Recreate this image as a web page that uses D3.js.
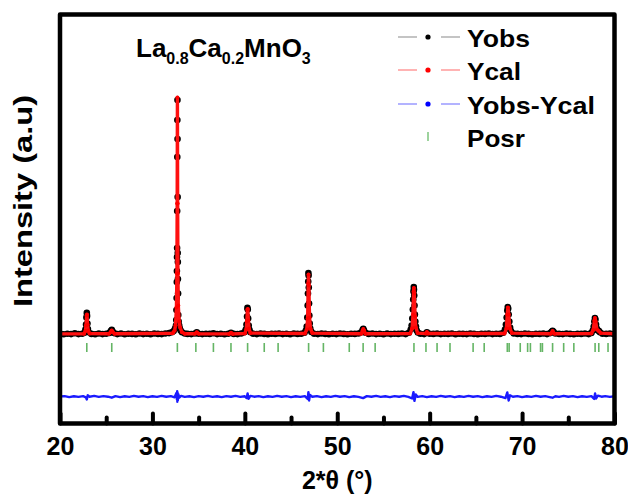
<!DOCTYPE html>
<html><head><meta charset="utf-8">
<script src="https://cdn.jsdelivr.net/npm/d3@7"></script>
<style>
body{margin:0;background:#fff}
svg{display:block}
text{font-family:"Liberation Sans",Arial,sans-serif;font-weight:bold;fill:#000}
</style>
</head><body>
<svg id="chart" width="628" height="494"></svg>
<script>
// ---------- data ----------
const xTicksMajor = [20, 30, 40, 50, 60, 70, 80];
const xTicksMinor = [25, 35, 45, 55, 65, 75];
const seriesNames = ["Yobs", "Ycal", "Yobs-Ycal", "Posr"];

// observed pattern [2theta, intensity]
const yobs = [
[20.0,3500],[20.4,3460],[20.8,3490],[21.2,3470],[21.6,3510],[22.0,3470],[22.4,3490],[22.65,3540],
[22.75,3700],[22.82,3950],[22.86,4300],[22.9,4530],[22.93,4380],[22.97,4000],[23.02,3720],[23.1,3560],
[23.4,3480],[23.8,3460],[24.2,3500],[24.6,3470],[25.0,3490],[25.35,3530],[25.5,3620],[25.6,3680],[25.7,3600],[25.85,3520],
[26.2,3470],[26.6,3500],[27.0,3460],[27.4,3490],[27.8,3480],[28.2,3460],[28.6,3500],[29.0,3470],[29.4,3490],[29.8,3460],
[30.2,3500],[30.6,3480],[31.0,3470],[31.4,3500],[31.8,3520],[32.1,3560],[32.3,3620],[32.45,3750],
[32.55,3900],[32.58,4175],[32.6,4675],[32.62,5275],[32.64,6075],[32.65,6625],[32.66,7325],[32.67,7775],[32.68,9625],
[32.69,12325],[32.70,14175],[32.71,15175],[32.72,13225],[32.73,10325],[32.74,7525],[32.75,7075],[32.76,6225],
[32.78,5500],[32.8,4425],[32.84,4100],[32.9,3900],[32.97,3750],[33.05,3650],[33.2,3560],[33.5,3500],
[33.8,3480],[34.2,3470],[34.6,3500],[34.8,3560],[35.0,3490],[35.4,3470],[35.8,3490],[36.2,3480],[36.6,3510],[37.0,3470],
[37.4,3490],[37.8,3460],[38.2,3490],[38.5,3540],[38.8,3480],[39.2,3470],[39.6,3500],[39.95,3560],
[40.1,3700],[40.18,3950],[40.24,4350],[40.28,4780],[40.32,4700],[40.36,4250],[40.42,3900],[40.5,3680],[40.6,3560],
[40.9,3490],[41.3,3470],[41.7,3500],[42.1,3480],[42.5,3460],[42.9,3490],[43.3,3480],[43.7,3500],[44.1,3470],[44.5,3490],
[44.9,3460],[45.3,3500],[45.7,3480],[46.1,3490],[46.45,3540],
[46.6,3650],[46.7,3850],[46.76,4300],[46.8,4900],[46.83,5500],[46.86,6100],[46.88,6525],[46.9,6400],[46.92,5800],
[46.95,5000],[46.98,4400],[47.02,4000],[47.08,3750],[47.2,3580],
[47.5,3490],[47.9,3470],[48.3,3500],[48.7,3480],[49.1,3460],[49.5,3490],[49.9,3470],[50.3,3500],[50.7,3480],[51.1,3460],
[51.5,3490],[51.9,3480],[52.3,3500],[52.6,3560],[52.75,3680],[52.82,3740],[52.9,3650],[53.05,3540],
[53.4,3480],[53.8,3500],[54.2,3470],[54.6,3490],[55.0,3460],[55.4,3500],[55.8,3470],[56.2,3490],[56.6,3480],[57.0,3500],
[57.4,3470],[57.75,3540],
[57.95,3700],[58.05,3900],[58.12,4250],[58.18,4700],[58.22,5200],[58.25,5600],[58.28,5825],[58.3,5700],[58.33,5400],
[58.36,4900],[58.4,4450],[58.45,4100],[58.52,3850],[58.6,3650],[58.72,3550],
[59.0,3490],[59.4,3470],[59.7,3560],[60.0,3490],[60.4,3480],[60.8,3500],[61.2,3470],[61.6,3490],[62.0,3480],[62.4,3500],
[62.8,3460],[63.2,3490],[63.6,3480],[64.0,3470],[64.4,3500],[64.8,3480],[65.2,3460],[65.6,3490],[66.0,3480],[66.4,3500],
[66.8,3470],[67.2,3490],[67.6,3480],[67.95,3540],
[68.15,3700],[68.25,3950],[68.33,4300],[68.4,4650],[68.45,4825],[68.5,4750],[68.55,4450],[68.62,4100],[68.7,3800],[68.8,3620],
[69.1,3500],[69.5,3480],[69.9,3470],[70.3,3500],[70.7,3480],[71.1,3460],[71.5,3490],[71.9,3480],[72.3,3500],[72.7,3470],
[73.05,3520],[73.2,3580],[73.3,3630],[73.4,3580],[73.6,3500],
[74.0,3480],[74.4,3470],[74.8,3500],[75.2,3480],[75.6,3460],[76.0,3490],[76.4,3480],[76.8,3500],[77.2,3470],[77.5,3530],
[77.65,3650],[77.75,3850],[77.82,4100],[77.88,4275],[77.94,4200],[78.0,3950],[78.08,3750],[78.2,3650],[78.3,3640],[78.42,3560],
[78.7,3490],[79.1,3480],[79.5,3500],[79.9,3470]
];

// calculated profile [2theta, intensity]
const ycal = [
[20,3480],[22.6,3485],[22.75,3620],[22.82,3900],[22.88,4400],[22.92,4450],[22.98,3950],[23.05,3650],[23.2,3500],
[25.3,3490],[25.5,3580],[25.6,3650],[25.7,3580],[25.9,3490],
[32.2,3510],[32.4,3650],[32.5,3900],[32.6,4800],[32.65,6500],[32.68,10000],[32.705,15300],[32.73,10000],[32.76,6500],
[32.8,4900],[32.9,4100],[33.0,3800],[33.2,3560],[33.5,3490],
[34.6,3490],[34.8,3560],[35.0,3490],[38.3,3480],[38.5,3540],[38.7,3480],
[40.0,3500],[40.15,3700],[40.22,4100],[40.28,4700],[40.32,4720],[40.38,4150],[40.45,3750],[40.6,3520],
[46.5,3500],[46.7,3700],[46.8,4250],[46.86,6000],[46.89,6450],[46.93,5900],[47.0,4300],[47.1,3750],[47.3,3520],
[52.6,3490],[52.75,3650],[52.82,3720],[52.9,3650],[53.05,3490],
[57.9,3500],[58.1,3750],[58.2,4450],[58.26,5600],[58.29,5780],[58.33,5500],[58.42,4350],[58.5,3800],[58.7,3520],
[59.6,3500],[59.7,3570],[59.8,3500],
[68.1,3500],[68.3,3750],[68.4,4450],[68.47,4800],[68.55,4450],[68.68,3750],[68.9,3520],
[73.1,3490],[73.3,3620],[73.5,3490],
[77.5,3500],[77.7,3680],[77.83,4150],[77.89,4270],[77.96,4100],[78.1,3700],[78.3,3620],[78.5,3520],[80,3490]
];

// difference curve [2theta, Yobs-Ycal]
const diff = [
[20,0],[20.5,20],[21,-30],[21.5,10],[22,-20],[22.5,20],[22.8,-40],[22.9,-150],[23.0,60],[23.2,-10],[23.7,30],[24.2,-20],
[24.7,20],[25.2,-10],[25.6,-60],[26,20],[26.5,-30],[27,10],[27.5,-20],[28,30],[28.5,-10],[29,20],[29.5,-30],[30,10],
[30.5,-20],[31,30],[31.5,-10],[32,20],[32.4,-40],[32.6,180],[32.65,-150],[32.68,260],[32.7,-260],[32.72,200],[32.75,-200],
[32.8,120],[32.9,-60],[33.1,30],[33.5,-20],[34,10],[34.5,-30],[35,20],[35.5,-10],[36,30],[36.5,-20],[37,10],[37.5,-30],
[38,20],[38.5,-10],[39,30],[39.5,-20],[40,10],[40.2,-80],[40.3,150],[40.4,-120],[40.6,30],[41,-10],[41.5,20],[42,-30],
[42.5,10],[43,-20],[43.5,30],[44,-10],[44.5,20],[45,-30],[45.5,10],[46,-20],[46.5,20],[46.8,-120],[46.88,220],[46.95,-200],
[47.05,80],[47.3,-10],[47.8,20],[48.3,-30],[48.8,10],[49.3,-20],[49.8,30],[50.3,-10],[50.8,20],[51.3,-30],[51.8,10],
[52.3,-20],[52.8,-80],[53.2,20],[53.7,-10],[54.2,30],[54.7,-20],[55.2,10],[55.7,-30],[56.2,20],[56.7,-10],[57.2,30],
[57.7,-20],[58.1,-100],[58.25,220],[58.35,-220],[58.5,100],[58.7,-20],[59.2,20],[59.7,-30],[60.2,10],[60.7,-20],[61.2,30],
[61.7,-10],[62.2,20],[62.7,-30],[63.2,10],[63.7,-20],[64.2,30],[64.7,-10],[65.2,20],[65.7,-30],[66.2,10],[66.7,-20],
[67.2,30],[67.7,-10],[68.2,-80],[68.4,200],[68.55,-200],[68.7,60],[69,-10],[69.5,20],[70,-30],[70.5,10],[71,-20],[71.5,30],
[72,-10],[72.5,20],[73,-30],[73.3,-60],[73.6,10],[74,-20],[74.5,30],[75,-10],[75.5,20],[76,-30],[76.5,10],[77,-20],
[77.5,20],[77.8,-120],[77.9,150],[78.0,-100],[78.2,40],[78.6,-10],[79,20],[79.5,-20],[80,10]
];

// Bragg positions (2theta)
const posr = [22.9,25.6,32.7,34.7,36.6,38.5,40.3,42.1,43.6,46.9,48.5,51.3,52.8,54.1,58.3,59.6,60.8,62.2,64.7,65.9,
68.4,68.6,69.8,70.6,70.9,72.0,72.2,73.3,74.5,75.6,77.9,78.3,79.3];

const DIFF_SHIFT = 350;

// ---------- layout ----------
const svg = d3.select("#chart");
const L = 60, R = 614.5, T = 14.5, B = 423.5;
const x = d3.scaleLinear().domain([20, 80]).range([L, R]);
const y = d3.scaleLinear().domain([-1000, 19450]).range([B, T]);

svg.append("clipPath").attr("id","clip").append("rect")
  .attr("x",L).attr("y",T).attr("width",R-L).attr("height",B-T);
const plot = svg.append("g").attr("clip-path","url(#clip)");

// Yobs connecting line + points
plot.append("path").datum(yobs)
  .attr("d", d3.line().x(d=>x(d[0])).y(d=>y(d[1])))
  .attr("fill","none").attr("stroke","#888").attr("stroke-width",1);
plot.append("g").selectAll("circle").data(yobs).join("circle")
  .attr("cx",d=>x(d[0])).attr("cy",d=>y(d[1])).attr("r",3.3).attr("fill","#000");

// Ycal
plot.append("path").datum(ycal)
  .attr("d", d3.line().x(d=>x(d[0])).y(d=>y(d[1])))
  .attr("fill","none").attr("stroke","#ff1010").attr("stroke-width",3.4).attr("stroke-linejoin","round");
plot.append("g").selectAll("circle").data(ycal).join("circle")
  .attr("cx",d=>x(d[0])).attr("cy",d=>y(d[1])).attr("r",2).attr("fill","#ff0000");

// Bragg positions
plot.append("g").selectAll("line").data(posr).join("line")
  .attr("x1",d=>x(d)).attr("x2",d=>x(d)).attr("y1",343).attr("y2",352)
  .attr("stroke","#3fa33f").attr("stroke-opacity",0.8).attr("stroke-width",1.6);

// difference
plot.append("path").datum(diff)
  .attr("d", d3.line().x(d=>x(d[0])).y(d=>y(d[1]+DIFF_SHIFT)))
  .attr("fill","none").attr("stroke","#1a1aff").attr("stroke-width",2.4).attr("stroke-linejoin","round");

// frame
svg.append("rect").attr("x",L).attr("y",T).attr("width",R-L).attr("height",B-T)
  .attr("fill","none").attr("stroke","#000").attr("stroke-width",4.5).attr("stroke-linejoin","round");

// axes
const ax = svg.append("g").attr("transform",`translate(0,${B})`)
  .call(d3.axisBottom(x).tickValues(xTicksMajor).tickSize(-10).tickPadding(14).tickFormat(d3.format("d")));
ax.select(".domain").remove();
ax.selectAll(".tick line").attr("stroke-width",4).attr("stroke-linecap","round");
ax.selectAll("text").attr("font-size",25).attr("font-family","Liberation Sans, Arial, sans-serif").attr("font-weight","bold");
const axm = svg.append("g").attr("transform",`translate(0,${B})`)
  .call(d3.axisBottom(x).tickValues(xTicksMinor).tickSize(-6).tickFormat(""));
axm.select(".domain").remove();
axm.selectAll(".tick line").attr("stroke-width",4).attr("stroke-linecap","round");

// axis titles
svg.append("text").attr("x",(L+R)/2).attr("y",489).attr("text-anchor","middle")
  .attr("font-size",25).text("2*θ (°)");
svg.append("text").attr("transform","translate(32,201) rotate(-90)").attr("text-anchor","middle")
  .attr("font-size",25).attr("textLength",212).attr("lengthAdjust","spacingAndGlyphs").text("Intensity (a.u)");

// title
const title = svg.append("text").attr("x",136).attr("y",57).attr("font-size",26);
title.append("tspan").text("La");
title.append("tspan").attr("font-size",16).attr("dy",7).text("0.8");
title.append("tspan").attr("dy",-7).text("Ca");
title.append("tspan").attr("font-size",16).attr("dy",7).text("0.2");
title.append("tspan").attr("dy",-7).text("MnO");
title.append("tspan").attr("font-size",16).attr("dy",7).text("3");

// legend
const legRows = [
  {name:seriesNames[0], line:"#b0b0b0", dot:"#000", y:37, w:63},
  {name:seriesNames[1], line:"#ff9a9a", dot:"#ff0000", y:70, w:54},
  {name:seriesNames[2], line:"#9a9aff", dot:"#0000ff", y:104, w:128},
  {name:seriesNames[3], line:null, dot:null, y:137, w:58}
];
const leg = svg.append("g");
legRows.forEach(r => {
  if (r.line) {
    leg.append("line").attr("x1",398).attr("x2",417).attr("y1",r.y).attr("y2",r.y).attr("stroke",r.line).attr("stroke-width",1.5);
    leg.append("line").attr("x1",441).attr("x2",460).attr("y1",r.y).attr("y2",r.y).attr("stroke",r.line).attr("stroke-width",1.5);
    leg.append("circle").attr("cx",428).attr("cy",r.y).attr("r",2.6).attr("fill",r.dot);
  } else {
    leg.append("line").attr("x1",428).attr("x2",428).attr("y1",r.y-5).attr("y2",r.y+4).attr("stroke","#7cc47c").attr("stroke-width",1.5);
  }
  leg.append("text").attr("x",467).attr("y",r.y+10).attr("font-size",24)
    .attr("textLength",r.w).attr("lengthAdjust","spacingAndGlyphs").text(r.name);
});
</script>
</body></html>
